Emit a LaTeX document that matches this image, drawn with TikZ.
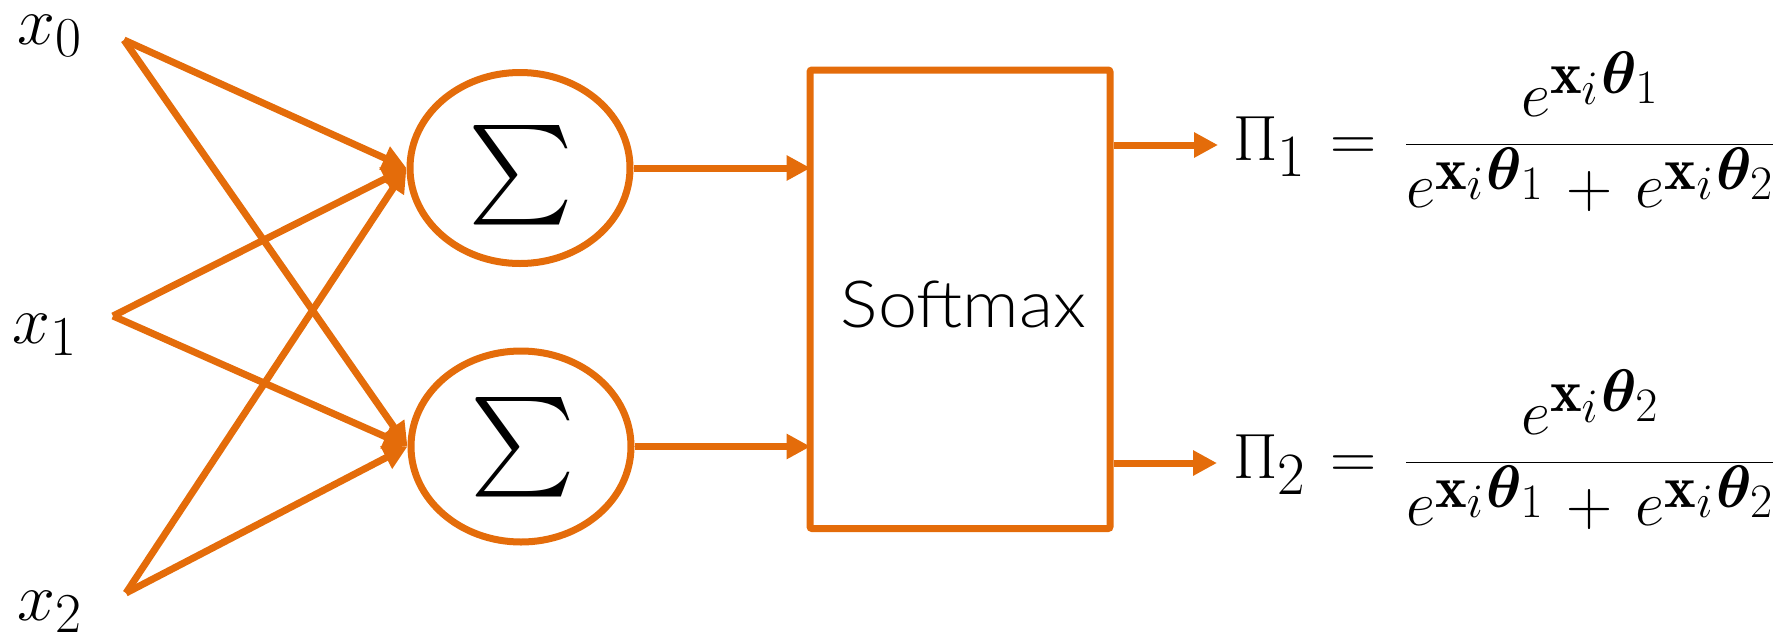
\RequirePackage{fix-cm}
\documentclass[tikz,border=0pt]{standalone}
\usepackage{amsmath,bm}
\usepackage{fontspec}
\newfontfamily\smfont{Lato Light}
\usetikzlibrary{arrows.meta,shapes.geometric}
\definecolor{orng}{RGB}{228,108,10}
% large math with generous script sizes
\DeclareMathSizes{64}{64}{60}{48}
\DeclareMathSizes{68}{68}{56.4}{47}
% softmax output terms
\newcommand{\ex}[1]{e^{\mathbf{x}_i\mkern1mu\bm{\theta}_{#1}}}
\newcommand{\piout}[2]{\Pi_{#1}\mkern2mu=\mkern3mu
  \frac{\ex{#2}}{\ex{1}\mkern2.5mu+\mkern2.5mu\ex{2}}}

\begin{document}
\begin{tikzpicture}[x=1pt,y=-1pt,
  every node/.style={inner sep=0pt},
  ln/.style={draw=orng, line width=7pt},
  arr/.style={ln, -{Triangle[length=24pt,width=24pt]}},
  sumnode/.style={ellipse, draw=orng, line width=7pt,
    minimum width=220pt, minimum height=191pt},
  inlabel/.style={anchor=base west, font=\fontsize{68}{80}\selectfont},
  eqlabel/.style={anchor=base west, font=\fontsize{64}{76}\selectfont},
  sumsign/.style={font=\Huge, scale=4.0},
]
\useasboundingbox (0,0) rectangle (1783,633);

% inputs
\node[inlabel] (x0) at (17,44) {$x_0$};
\node[inlabel] (x1) at (12,343) {$x_1$};
\node[inlabel] (x2) at (17,620) {$x_2$};
\coordinate (a0) at (124,40);
\coordinate (a1) at (113,316);
\coordinate (a2) at (126,593);

% summation units
\node[sumnode] (s1) at (520,168) {};
\node[sumnode] (s2) at (521,446.5) {};
\node[sumsign] (g1) at (521.5,175.5) {$\textstyle\sum$};
\node[sumsign] (g2) at (523,447.5) {$\textstyle\sum$};

% softmax block
\node[draw=orng, line width=7pt, rounded corners=2pt,
      minimum width=300pt, minimum height=458.5pt] (sm) at (960,299.25) {};
\node[anchor=base, xscale=1.08, font=\smfont\fontsize{65}{78}\selectfont] (smt) at (963.5,327) {Softmax};

% outputs
\node[eqlabel] (p1) at (1233,160) {$\displaystyle\piout{1}{1}$};
\node[eqlabel] (p2) at (1233,478) {$\displaystyle\piout{2}{2}$};
\coordinate (t1) at (1218,145);
\coordinate (t2) at (1217,463);

% connections
\foreach \a in {a0,a1,a2}{
  \draw[arr] (\a) -- (s1.west);
  \draw[arr] (\a) -- (s2.west);
}
\draw[arr] (s1.east) -- ([xshift=4pt]sm.west |- s1.east);
\draw[arr] (s2.east) -- ([xshift=4pt]sm.west |- s2.east);
\draw[arr] (sm.east |- t1) -- (t1);
\draw[arr] (sm.east |- t2) -- (t2);
\end{tikzpicture}
\end{document}
